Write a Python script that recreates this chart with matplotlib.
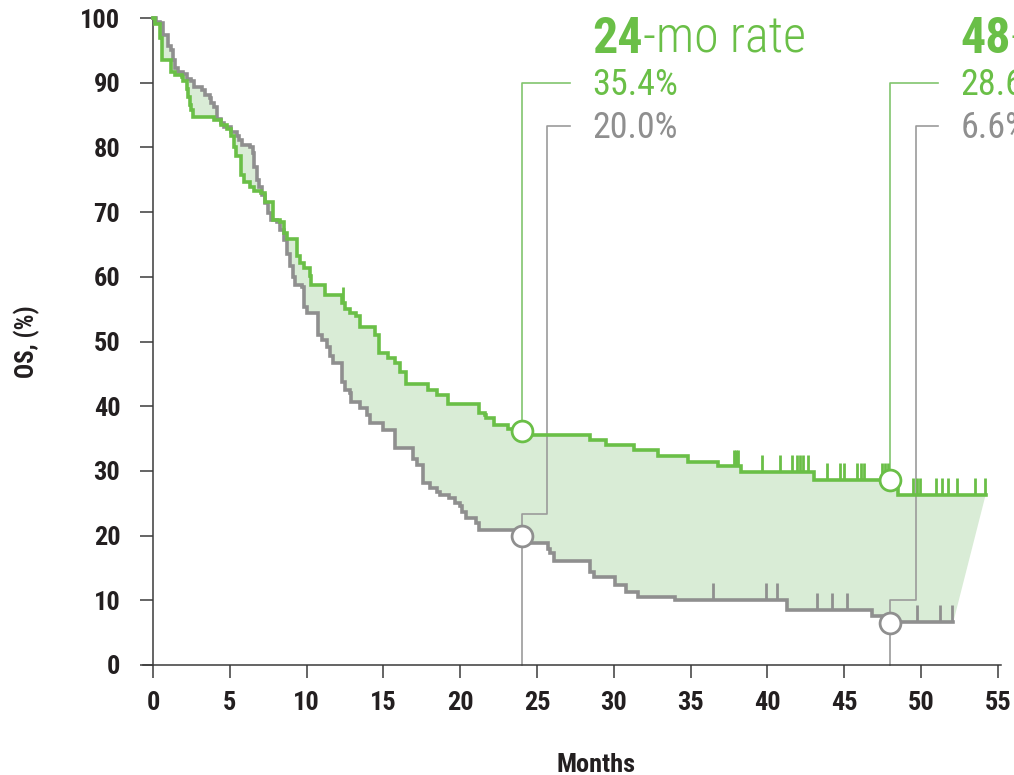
import numpy as np
import matplotlib
matplotlib.use("Agg")
import matplotlib.pyplot as plt
from matplotlib import font_manager as fm

# pick a condensed sans that has a regular and a bold face
weights = {}
for f in fm.fontManager.ttflist:
    w = f.weight if isinstance(f.weight, int) else 400
    if f.style == "normal":
        weights.setdefault(f.name, set()).add(w)
preferred = ["Roboto Condensed", "Archivo Narrow", "PT Sans Narrow", "Barlow Condensed",
             "Fira Sans Condensed", "IBM Plex Sans Condensed", "Asap Condensed",
             "Encode Sans Condensed", "Pragati Narrow", "Liberation Sans Narrow"]
FONT = "DejaVu Sans"
for name in preferred:
    ws = weights.get(name, set())
    if 400 in ws and any(w >= 700 for w in ws):
        FONT = name
        break
LIGHT = 300 if 300 in weights.get(FONT, set()) else 400
plt.rcParams["font.family"] = [FONT, "DejaVu Sans"]

# Kaplan-Meier steps: event time (months) and OS (%) after the event
green_t = [0, 0.13, 0.46, 0.57, 1.2, 1.43, 1.87, 1.97, 2.2, 2.3, 2.4, 2.5, 2.6,
           4.0, 4.4, 4.8, 5.1, 5.25, 5.4, 5.7, 5.9, 6.3, 6.6, 7.0, 7.3, 7.8, 8.3,
           8.5, 8.7, 9.35, 9.6, 9.8, 10.2, 10.3, 11.2, 12.3, 12.5, 12.8, 13.2,
           13.5, 14.45, 14.7, 15.3, 15.75, 16.1, 16.5, 17.9, 18.5, 19.2, 21.2,
           21.6, 21.7, 22.2, 23.1, 24.3, 28.45, 29.5, 31.3, 32.9, 34.85, 36.8,
           38.3, 43.0, 48.5]
green_s = [100, 99.0, 96.9, 93.5, 91.7, 91.2, 90.9, 90.2, 89.1, 87.8, 86.6, 85.8,
           84.7, 84.2, 83.5, 82.9, 81.7, 80.0, 78.6, 75.7, 74.7, 73.9, 73.2, 72.9,
           71.6, 68.8, 68.4, 66.8, 65.8, 63.2, 62.2, 61.3, 60.2, 58.8, 57.2, 55.9,
           55.1, 54.4, 53.9, 52.3, 51.0, 48.2, 47.4, 46.6, 45.3, 43.5, 42.5, 41.7,
           40.4, 38.9, 38.6, 38.1, 37.1, 36.4, 35.5, 34.8, 34.0, 33.2, 32.3, 31.4,
           30.7, 29.9, 28.6, 26.3]
green_end = 54.2
green_censor = [12.35, 37.8, 37.95, 38.1, 39.63, 40.82, 41.58, 41.9, 42.12, 42.34,
                42.66, 43.86, 44.73, 44.99, 45.81, 46.07, 46.29, 47.44, 47.66,
                47.87, 49.5, 49.76, 49.93, 50.98, 51.34, 51.78, 52.32, 53.5, 54.17]

gray_t = [0, 0.2, 0.46, 0.67, 1.0, 1.2, 1.3, 1.43, 1.65, 1.97, 2.2, 2.5, 2.7, 3.2,
          3.4, 3.7, 3.8, 4.0, 4.15, 4.4, 4.6, 5.1, 5.45, 5.6, 5.8, 6.3, 6.5, 6.6,
          6.75, 6.9, 7.1, 7.3, 7.5, 7.7, 8.05, 8.3, 8.5, 8.7, 8.9, 9.1, 9.25, 9.7,
          9.8, 10.0, 10.76, 11.0, 11.3, 11.5, 11.75, 12.3, 12.5, 12.8, 12.9, 13.5,
          13.9, 14.1, 15.0, 15.75, 16.95, 17.2, 17.6, 18.0, 18.5, 18.7, 19.3,
          19.65, 20.0, 20.1, 20.4, 21.0, 21.2, 23.5, 24.5, 25.7, 25.85, 26.1,
          28.45, 28.7, 30.1, 30.8, 31.6, 34.0, 41.25, 46.8, 47.6]
gray_s = [100, 99.4, 99.2, 97.4, 95.6, 95.0, 93.5, 92.2, 91.7, 91.4, 90.6, 90.2,
          89.4, 88.9, 88.1, 87.6, 86.8, 86.3, 84.4, 83.7, 83.2, 82.4, 81.7, 81.1,
          80.4, 80.1, 79.1, 77.0, 75.0, 73.9, 72.6, 71.4, 69.8, 68.8, 68.5, 67.2,
          65.7, 63.6, 61.6, 60.0, 58.7, 58.4, 55.4, 54.4, 51.0, 50.2, 49.2, 47.7,
          46.6, 43.8, 42.5, 42.0, 40.7, 39.7, 38.6, 37.4, 36.3, 33.5, 31.9, 30.9,
          28.1, 27.3, 26.8, 26.3, 25.8, 25.0, 24.5, 23.7, 22.7, 21.9, 20.9, 20.2,
          18.8, 18.0, 17.3, 16.0, 14.4, 13.6, 12.4, 11.3, 10.5, 10.0, 8.5, 7.5,
          6.7]
gray_end = 52.1
gray_censor = [36.48, 39.9, 40.6, 43.2, 44.2, 45.16, 49.7, 51.2, 52.0]

# landmark rates
rate_months = [24, 48]
green_marker = [36.2, 28.6]
gray_marker = [19.9, 6.5]
green_labels = ["35.4%", "28.6%"]
gray_labels = ["20.0%", "6.6%"]
header_bold = ["24", "48"]
header_rest = ["-mo rate", "-mo rate"]

GREEN = "#6abf47"
GREEN_LEAD = "#82c56e"
GRAY = "#8f8f8f"
GRAY_LEAD = "#9b9b9b"
FILL = "#d9ecd6"
DARK = "#231f20"


def step_xy(t, s, end):
    # post-step polyline
    xs, ys = [], []
    for i in range(len(t)):
        if i > 0:
            xs.append(t[i])
            ys.append(s[i - 1])
        xs.append(t[i])
        ys.append(s[i])
    xs.append(end)
    ys.append(s[-1])
    return np.array(xs), np.array(ys)


def value_at(t, s, x):
    idx = np.searchsorted(t, x, side="right") - 1
    return np.array(s)[idx]


fig = plt.figure(figsize=(10.14, 7.75), dpi=100)
ax = fig.add_axes([143 / 1014, 110 / 775, 858 / 1014, 647 / 775])
ax.set_xlim(-0.65, 55.2)
ax.set_ylim(0, 100)

gx, gy = step_xy(green_t, green_s, green_end)
kx, ky = step_xy(gray_t, gray_s, gray_end)

# shaded band between the two curves
ax.fill(np.concatenate([gx, kx[::-1]]), np.concatenate([gy, ky[::-1]]),
        color=FILL, lw=0, zorder=1, clip_on=False)

ax.plot(kx, ky, color=GRAY, lw=2.6, zorder=3, clip_on=False, solid_joinstyle="miter")
ax.plot(gx, gy, color=GREEN, lw=2.6, zorder=4, clip_on=False, solid_joinstyle="miter")

tick_h = 2.6
gc = value_at(green_t, green_s, green_censor)
ax.vlines(green_censor, gc, gc + tick_h, color=GREEN, lw=2.0, zorder=4)
kc = value_at(gray_t, gray_s, gray_censor)
ax.vlines(gray_censor, kc, kc + tick_h, color=GRAY, lw=2.0, zorder=3)

# leader lines from the rate labels down to the markers
lead_green_y = 90.0
lead_gray_y = 83.3
elbow_x = [25.63, 49.65]
elbow_y = [23.3, 10.0]
text_x = [28.58, 52.54]
for m, gm, ex, ey, tx in zip(rate_months, green_marker, elbow_x, elbow_y, text_x):
    ax.plot([tx - 1.42, m, m], [lead_green_y, lead_green_y, gm],
            color=GREEN_LEAD, lw=1.2, zorder=2, clip_on=False)
    ax.plot([tx - 1.42, ex, ex, m, m], [lead_gray_y, lead_gray_y, ey, ey, 0],
            color=GRAY_LEAD, lw=1.2, zorder=2, clip_on=False)

ax.plot(rate_months, green_marker, "o", ms=15, mfc="white", mec=GREEN, mew=2.0,
        zorder=6, clip_on=False)
ax.plot(rate_months, gray_marker, "o", ms=15, mfc="white", mec=GRAY, mew=2.0,
        zorder=6, clip_on=False)

for tx, hb, hr, gl, kl in zip(text_x, header_bold, header_rest, green_labels, gray_labels):
    t1 = ax.text(tx, 94.6, hb, color=GREEN, fontsize=36, fontweight="bold",
                 ha="left", va="baseline", clip_on=False)
    ax.annotate(hr, xy=(1, 0), xycoords=t1, color=GREEN, fontsize=36,
                fontweight=LIGHT, ha="left", va="bottom", annotation_clip=False)
    ax.text(tx, 88.1, gl, color=GREEN, fontsize=26, ha="left", va="baseline")
    ax.text(tx, 81.5, kl, color=GRAY, fontsize=26, ha="left", va="baseline")

for side in ["top", "right"]:
    ax.spines[side].set_visible(False)
ax.spines["left"].set_position(("data", 0))
for side in ["left", "bottom"]:
    ax.spines[side].set_color("#3a3a3a")
    ax.spines[side].set_linewidth(1.1)

ax.set_xticks(np.arange(0, 56, 5))
ax.set_yticks(np.arange(0, 101, 10))
ax.tick_params(axis="both", direction="out", length=9.5, width=1.1, color="#3a3a3a",
               labelsize=19, labelcolor=DARK)
ax.tick_params(axis="x", pad=9)
ax.tick_params(axis="y", pad=14)
for lab in ax.get_xticklabels() + ax.get_yticklabels():
    lab.set_fontweight("bold")

ax.set_xlabel("Months", fontsize=19, fontweight="bold", color=DARK)
ax.xaxis.set_label_coords(0.528, -0.136)
ax.set_ylabel("OS, (%)", fontsize=18, fontweight="bold", color=DARK)
ax.yaxis.set_label_coords(-0.12, 0.5)

fig.savefig("out.png", dpi=100)
